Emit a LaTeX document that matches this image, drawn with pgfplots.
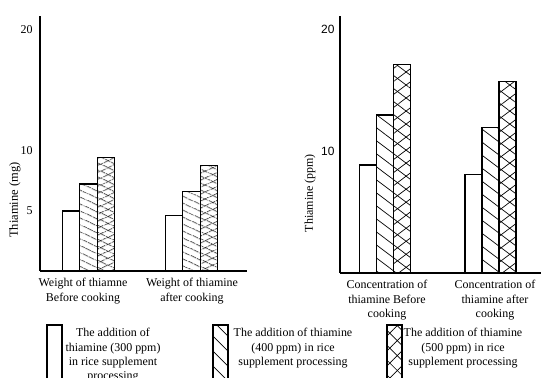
\documentclass[border=0pt]{standalone}
\usepackage{fontspec}
\setmainfont{Liberation Serif}
\newfontfamily\arialfont{Liberation Sans}
\usepackage{pgfplots}
\pgfplotsset{compat=1.18}
\usetikzlibrary{patterns.meta}
\tikzset{
  hatchA/.style={postaction={pattern={Lines[angle=-25,distance=6.8bp,line width=0.7bp]}}},
  crossA/.style={postaction={pattern={Lines[angle=-25,distance=6.8bp,line width=0.7bp]}},
                 postaction={pattern={Lines[angle=25,distance=6.8bp,line width=0.7bp]}}},
  hatchB/.style={postaction={pattern={Lines[angle=-37,distance=10.4bp,line width=0.7bp]}}},
  crossB/.style={postaction={pattern={Lines[angle=-37,distance=10.4bp,line width=0.7bp]}},
                 postaction={pattern={Lines[angle=37,distance=10.4bp,line width=0.7bp]}}},
  hatchC/.style={postaction={pattern={Lines[angle=-45,distance=10.6bp,line width=0.7bp]}}},
  crossC/.style={postaction={pattern={Lines[angle=-45,distance=10.6bp,line width=0.7bp]}},
                 postaction={pattern={Lines[angle=45,distance=10.6bp,line width=0.7bp]}}},
}
\pgfplotsset{
  mybar/.style={ybar, bar shift=0pt, draw=black, line width=1.2bp, fill=white},
  common/.style={
    scale only axis,
    anchor=south west,
    xmin=0, ymin=0,
    axis x line*=bottom, axis y line*=left,
    axis line style={line width=1.2bp},
    major tick length=0,
    /pgf/number format/assume math mode=true,
    xticklabel style={align=center, font=\fontsize{12}{14.5}\selectfont, yshift=-4bp},
  },
}
\begin{document}
\begin{tikzpicture}[font=\fontsize{12}{14.5}\selectfont]
\useasboundingbox (0bp,0bp) rectangle (558bp,378bp);
\clip (0bp,0bp) rectangle (558bp,378bp);

\begin{axis}[common,
  at={(40bp,107bp)}, width=207bp, height=255bp,
  xmax=207, ymax=21.1,
  ytick={5,10,20},
  yticklabel style={font=\fontsize{12}{14.5}\selectfont, xshift=-4bp},
  xtick={43,152},
  xticklabels={{Weight of thiamne\\Before cooking},{Weight of thiamine\\after cooking}},
  ylabel={Thiamine (mg)},
  ylabel style={at={(axis description cs:-0.121,0.278)}, anchor=center, font=\fontsize{12.5}{14.5}\selectfont},
  bar width=17.5,
]
\addplot[mybar] coordinates {(31,4.96) (134,4.6)};
\addplot[mybar, hatchA] coordinates {(48.5,7.2) (151.5,6.6)};
\addplot[mybar, crossA] coordinates {(66,9.4) (169,8.7)};
\end{axis}

\begin{axis}[common,
  at={(340bp,105bp)}, width=201bp, height=257bp,
  xmax=201, ymax=21.07,
  ytick={10,20},
  yticklabel style={font=\arialfont\fontsize{12}{14.5}\selectfont, xshift=-2bp},
  xtick={47,155},
  xticklabels={{Concentration of\\thiamine Before\\cooking},{Concentration of\\thiamine after\\cooking}},
  ylabel={Thiamine (ppm)},
  ylabel style={at={(axis description cs:-0.149,0.311)}, anchor=center, font=\fontsize{12}{14.5}\selectfont},
  bar width=17,
]
\addplot[mybar] coordinates {(28,8.85) (133.5,8.1)};
\addplot[mybar, hatchB] coordinates {(45,12.95) (150.5,11.9)};
\addplot[mybar, crossB] coordinates {(62,17.1) (167.5,15.7)};
\end{axis}

% legend
\draw[line width=1.2bp, fill=white] (47bp,-10bp) rectangle (62bp,53bp);
\draw[line width=1.2bp, fill=white, hatchC] (213bp,-10bp) rectangle (228bp,53bp);
\draw[line width=1.2bp, fill=white, crossC] (387bp,-10bp) rectangle (402bp,53bp);
\node[align=center, anchor=north, inner sep=0pt] at (113bp,50bp) {The addition of\\thiamine (300 ppm)\\in rice supplement\\processing};
\node[align=center, anchor=north, inner sep=0pt] at (293bp,50bp) {The addition of thiamine\\(400 ppm) in rice\\supplement processing};
\node[align=center, anchor=north, inner sep=0pt] at (463bp,50bp) {The addition of thiamine\\(500 ppm) in rice\\supplement processing};
\end{tikzpicture}
\end{document}
